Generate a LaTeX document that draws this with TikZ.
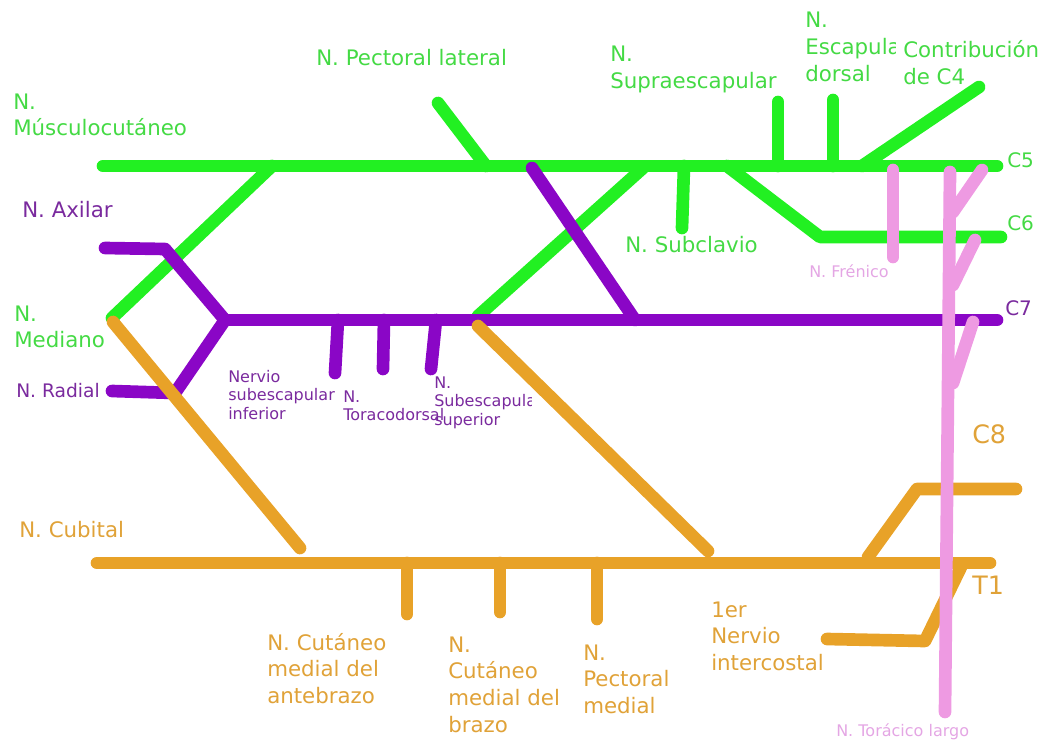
\documentclass[tikz,border=0pt]{standalone}
\usepackage{fontspec}
\setmainfont{DejaVu Sans}
\definecolor{gline}{HTML}{22F022}
\definecolor{gtext}{HTML}{44DA44}
\definecolor{pline}{HTML}{8A06C6}
\definecolor{ptext}{HTML}{7A2A9E}
\definecolor{oline}{HTML}{E8A228}
\definecolor{otext}{HTML}{E0A238}
\definecolor{kline}{HTML}{EE9AE2}
\definecolor{ktext}{HTML}{E4A6E4}
\newcommand{\mlines}[1]{\begin{tabular}[t]{@{}l@{}}#1\end{tabular}}
\begin{document}
\begin{tikzpicture}[x=0.75pt,y=-0.75pt,
  nerve/.style={line width=9.5pt,line cap=round,line join=round},
  gn/.style={nerve,draw=gline},
  pn/.style={nerve,draw=pline},
  on/.style={nerve,draw=oline},
  kn/.style={nerve,draw=kline},
  lbl/.style={inner sep=0pt,anchor=base west},
  big/.style={lbl,font=\fontsize{16}{20}\selectfont},
  mid/.style={lbl,font=\fontsize{14}{18}\selectfont},
  tag/.style={lbl,font=\fontsize{15}{18}\selectfont},
  huge/.style={lbl,font=\fontsize{19}{22}\selectfont},
  small/.style={lbl,font=\fontsize{12}{14}\selectfont}]
\path[use as bounding box] (0,0) rectangle (1052,742);

% ---------- coordinates ----------
% green
\coordinate (c5l) at (103,166);
\coordinate (c5r) at (997,166);
\coordinate (mc) at (272,166);
\coordinate (med) at (112,318);
\coordinate (plA) at (438,103);
\coordinate (plB) at (486,166);
\coordinate (seA) at (778,102);
\coordinate (seB) at (778,166);
\coordinate (edA) at (833,100);
\coordinate (edB) at (833,166);
\coordinate (c4A) at (979,87);
\coordinate (c4B) at (862,166);
\coordinate (scA) at (684,166);
\coordinate (scB) at (682,228);
\coordinate (c6a) at (727,166);
\coordinate (c6b) at (820,237);
\coordinate (c6r) at (1001,237);
\coordinate (lrA) at (643,168);
\coordinate (lrB) at (478,316);
% purple
\coordinate (c7l) at (225,320);
\coordinate (c7r) at (997,320);
\coordinate (pdA) at (532,168);
\coordinate (pdB) at (635,320);
\coordinate (axl) at (105,248);
\coordinate (axm) at (165,249);
\coordinate (rdm) at (175,393);
\coordinate (rdl) at (112,391);
\coordinate (b1a) at (338,320);
\coordinate (b1b) at (335,373);
\coordinate (b2a) at (384,320);
\coordinate (b2b) at (383,369);
\coordinate (b3a) at (436,320);
\coordinate (b3b) at (431,369);
% orange
\coordinate (mdA) at (113,322);
\coordinate (mdB) at (300,548);
\coordinate (ldA) at (478,326);
\coordinate (ldB) at (708,551);
\coordinate (cbl) at (97,563);
\coordinate (cbr) at (990,563);
\coordinate (o1a) at (407,563);
\coordinate (o1b) at (407,614);
\coordinate (o2a) at (500,563);
\coordinate (o2b) at (500,612);
\coordinate (o3a) at (597,563);
\coordinate (o3b) at (597,619);
\coordinate (c8a) at (868,557);
\coordinate (c8b) at (917,489);
\coordinate (c8r) at (1016,489);
\coordinate (icA) at (961,567);
\coordinate (icB) at (925,641);
\coordinate (icC) at (827,639);
% pink
\coordinate (frA) at (893,170);
\coordinate (frB) at (893,257);
\coordinate (ltA) at (950,172);
\coordinate (ltB) at (945,712);
\coordinate (k1a) at (982,170);
\coordinate (k1b) at (953,212);
\coordinate (k2a) at (975,240);
\coordinate (k2b) at (953,285);
\coordinate (k3a) at (973,322);
\coordinate (k3b) at (953,383);

% ---------- green ----------
\draw[gn] (c5l) -- (c5r);
\draw[gn] (mc) -- (med);
\draw[gn] (plA) -- (plB);
\draw[gn] (seA) -- (seB);
\draw[gn] (edA) -- (edB);
\draw[gn] (c4A) -- (c4B);
\draw[gn] (scA) -- (scB);
\draw[gn] (c6a) -- (c6b) -- (c6r);
\draw[gn] (lrA) -- (lrB);
% ---------- purple ----------
\draw[pn] (c7l) -- (c7r);
\draw[pn] (pdA) -- (pdB);
\draw[pn] (axl) -- (axm) -- (c7l);
\draw[pn] (c7l) -- (rdm) -- (rdl);
\draw[pn] (b1a) -- (b1b);
\draw[pn] (b2a) -- (b2b);
\draw[pn] (b3a) -- (b3b);
% ---------- orange ----------
\draw[on] (mdA) -- (mdB);
\draw[on] (ldA) -- (ldB);
\draw[on] (cbl) -- (cbr);
\draw[on] (o1a) -- (o1b);
\draw[on] (o2a) -- (o2b);
\draw[on] (o3a) -- (o3b);
\draw[on] (c8a) -- (c8b) -- (c8r);
\draw[on] (icA) -- (icB) -- (icC);
% ---------- pink ----------
\draw[kn] (frA) -- (frB);
\draw[kn] (ltA) -- (ltB);
\draw[kn] (k1a) -- (k1b);
\draw[kn] (k2a) -- (k2b);
\draw[kn] (k3a) -- (k3b);

% ---------- labels ----------
\node[big,text=gtext] (tmc) at (13,109) {\mlines{N.\\Músculocutáneo}};
\node[big,text=gtext] (tpl) at (316,65) {N. Pectoral lateral};
\node[big,text=gtext] (tse) at (610,62) {\mlines{N.\\Supraescapular}};
\begin{scope}
\clip (800,0) rectangle (895,100);
\node[big,text=gtext] (ted) at (805,28) {\mlines{N.\\Escapular\\dorsal}};
\end{scope}
\node[big,text=gtext] (tc4) at (903,58) {\mlines{Contribución\\de C4}};
\node[tag,text=gtext] (tc5) at (1007,167) {C5};
\node[tag,text=gtext] (tc6) at (1007,230) {C6};
\node[big,text=gtext] (tsc) at (625,252) {N. Subclavio};
\node[big,text=gtext] (tmed) at (14,321) {\mlines{N.\\Mediano}};

\node[big,text=ptext] (tax) at (22,217) {N. Axilar};
\node[mid,text=ptext] (trd) at (16,397) {N. Radial};
\node[tag,text=ptext] (tc7) at (1005,315) {C7};
\node[small,text=ptext] (tsi) at (228,382) {\mlines{Nervio\\subescapular\\inferior}};
\node[small,text=ptext] (ttd) at (343,402) {\mlines{N.\\Toracodorsal}};
\begin{scope}
\clip (430,370) rectangle (531,445);
\node[small,text=ptext] (tss) at (434,388) {\mlines{N.\\Subescapular\\superior}};
\end{scope}

\node[big,text=otext] (tcb) at (19,537) {N. Cubital};
\node[huge,text=otext] (tc8) at (972,443) {C8};
\node[huge,text=otext] (tt1) at (972,594) {T1};
\node[big,text=otext] (tca) at (267,650) {\mlines{N. Cutáneo\\medial del\\antebrazo}};
\node[big,text=otext] (tcbr) at (448,652) {\mlines{N.\\Cutáneo\\medial del\\brazo}};
\node[big,text=otext] (tpm) at (583,660) {\mlines{N.\\Pectoral\\medial}};
\node[big,text=otext] (tic) at (711,617) {\mlines{1er\\Nervio\\intercostal}};

\node[small,text=ktext] (tfr) at (809,277) {N. Frénico};
\node[small,text=ktext] (ttl) at (836,736) {N. Torácico largo};
\end{tikzpicture}
\end{document}
